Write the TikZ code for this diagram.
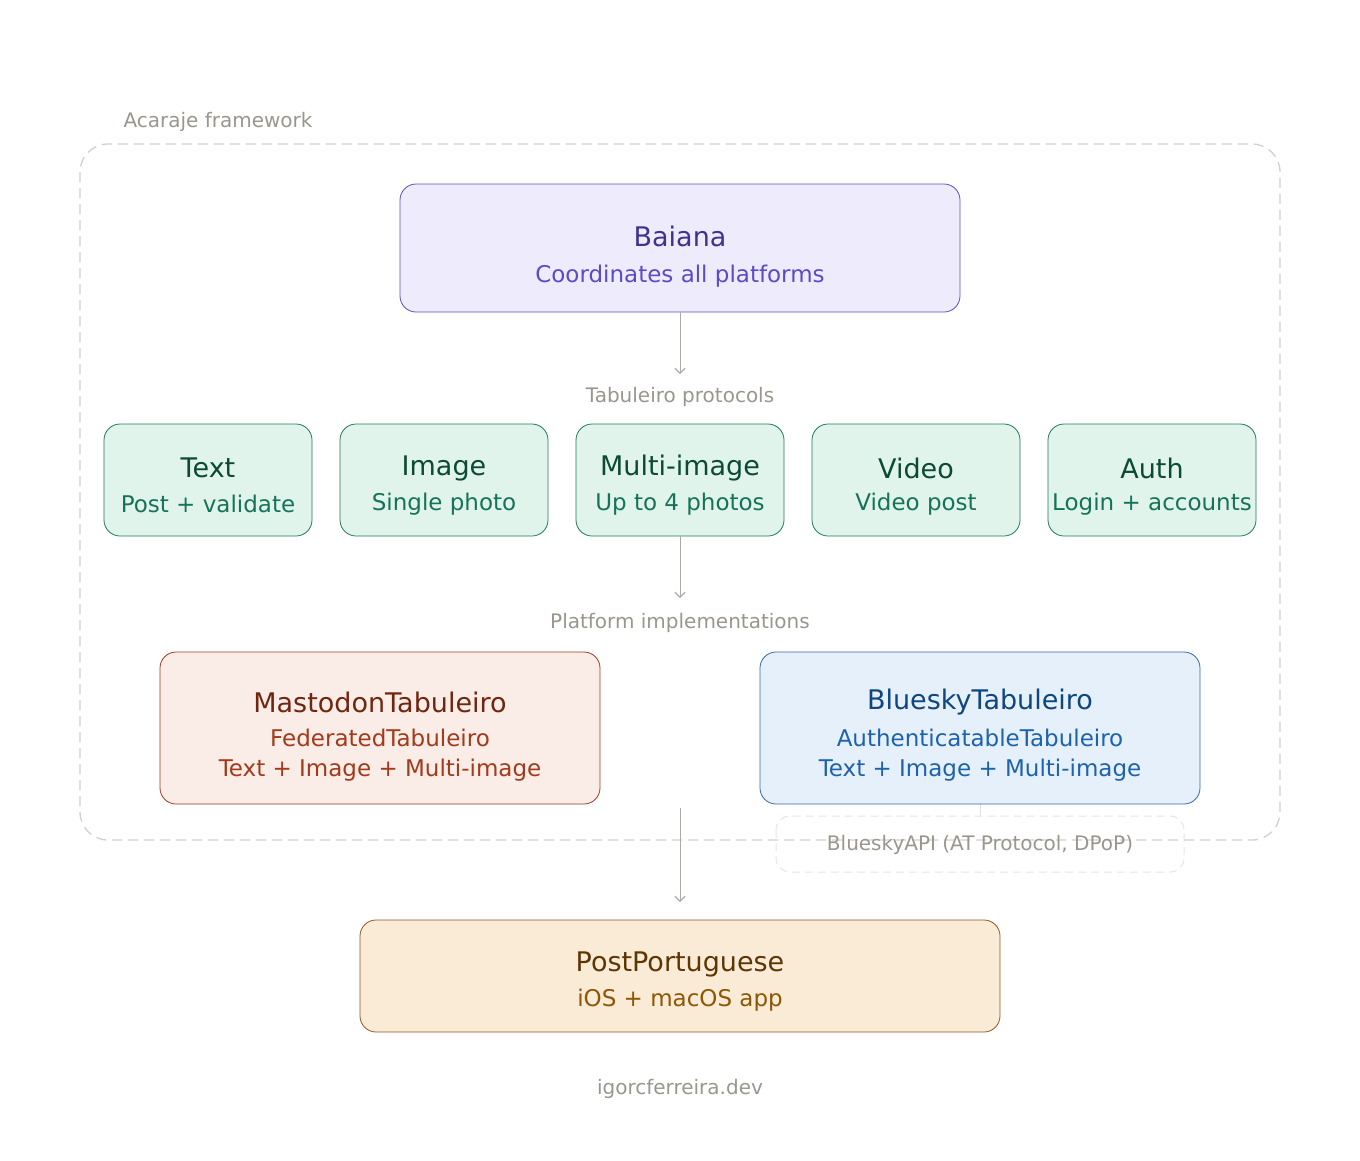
\documentclass[tikz,border=0pt]{standalone}
\usepackage{fontspec}
\setmainfont{DejaVu Sans}
\usetikzlibrary{arrows.meta}
\definecolor{lbl}{HTML}{9A968E}
\definecolor{pF}{HTML}{EEECFC}\definecolor{pD}{HTML}{5B4FC0}\definecolor{pT}{HTML}{3E3390}\definecolor{pS}{HTML}{5A4CC4}
\definecolor{gF}{HTML}{E0F4EC}\definecolor{gD}{HTML}{1E7A5A}\definecolor{gT}{HTML}{0C4A36}\definecolor{gS}{HTML}{16735A}
\definecolor{rF}{HTML}{FAECE6}\definecolor{rD}{HTML}{9A3A20}\definecolor{rT}{HTML}{70260F}\definecolor{rS}{HTML}{A23A1C}
\definecolor{bF}{HTML}{E6F0FA}\definecolor{bD}{HTML}{2F6AB0}\definecolor{bT}{HTML}{0E467E}\definecolor{bS}{HTML}{1D62AC}
\definecolor{oF}{HTML}{FAEBD6}\definecolor{oD}{HTML}{8E5A1C}\definecolor{oT}{HTML}{5E3604}\definecolor{oS}{HTML}{8E5606}
\begin{document}
\begin{tikzpicture}[x=1pt,y=-1pt,
  box/.style={rounded corners=16pt,line width=0.8pt,inner sep=0pt},
  lab/.style={text=lbl,font=\fontsize{20}{24}\selectfont},
  arr/.style={draw=lbl!80,line width=1pt,-{Straight Barb[length=5pt,width=10pt,line width=1.2pt]}}]
\useasboundingbox (0,0) rectangle (1360,1160);
\draw[lbl!45,dashed,dash pattern=on 10pt off 6pt,line width=1.3pt,rounded corners=28pt] (80,144) rectangle (1280,840);
\node[lab,anchor=west] (fw) at (120,122) {Acaraje framework};
% Baiana
\draw[box,draw=pD,fill=pF] (400,184) rectangle (960,312);
\node[text=pT,font=\fontsize{27}{30}\selectfont] (baiana) at (680,236) {Baiana};
\node[text=pS,font=\fontsize{23}{28}\selectfont] (bsub) at (680,276) {Coordinates all platforms};
\coordinate (b1) at (680,312);\coordinate (b2) at (680,374);
\draw[arr] (b1) -- (b2);
\node[lab] (tp) at (680,397) {Tabuleiro protocols};
% protocols
\foreach \x/\t/\s/\n in {208/Text/Post + validate/p1,444/Image/Single photo/p2,680/Multi-image/Up to 4 photos/p3,916/Video/Video post/p4,1152/Auth/Login + accounts/p5}{
  \draw[box,draw=gD,fill=gF] (\x-104,424) rectangle (\x+104,536);
  \node[text=gT,font=\fontsize{27}{30}\selectfont] (\n t) at (\x,468) {\t};
  \node[text=gS,font=\fontsize{23}{28}\selectfont] (\n s) at (\x,504) {\s};
}
\coordinate (c1) at (680,536);\coordinate (c2) at (680,598);
\draw[arr] (c1) -- (c2);
\node[lab] (pi) at (680,623) {Platform implementations};
% Mastodon
\draw[box,draw=rD,fill=rF] (160,652) rectangle (600,804);
\node[text=rT,font=\fontsize{27}{30}\selectfont] (m1) at (380,702) {MastodonTabuleiro};
\node[text=rS,font=\fontsize{23}{28}\selectfont] (m2) at (380,738) {FederatedTabuleiro};
\node[text=rS,font=\fontsize{23}{28}\selectfont] (m3) at (380,770) {Text + Image + Multi-image};
% Bluesky
\coordinate (s1) at (980,804);\coordinate (s2) at (980,816);
\draw[lbl!30,line width=0.8pt] (s1) -- (s2);
\draw[box,draw=bD,fill=bF] (760,652) rectangle (1200,804);
\node[text=bT,font=\fontsize{27}{30}\selectfont] (bl1) at (980,702) {BlueskyTabuleiro};
\node[text=bS,font=\fontsize{23}{28}\selectfont] (bl2) at (980,738) {AuthenticatableTabuleiro};
\node[text=bS,font=\fontsize{23}{28}\selectfont] (bl3) at (980,770) {Text + Image + Multi-image};
\draw[lbl!25,dashed,dash pattern=on 8pt off 5pt,line width=1pt,rounded corners=14pt] (776,816) rectangle (1184,872);
\node[lab] (api) at (980,845) {BlueskyAPI (AT Protocol, DPoP)};
\coordinate (d1) at (680,808);\coordinate (d2) at (680,902);
\draw[arr] (d1) -- (d2);
% PostPortuguese
\draw[box,draw=oD,fill=oF] (360,920) rectangle (1000,1032);
\node[text=oT,font=\fontsize{27}{30}\selectfont] (pp) at (680,964) {PostPortuguese};
\node[text=oS,font=\fontsize{23}{28}\selectfont] (pps) at (680,1000) {iOS + macOS app};
\node[lab] (foot) at (680,1089) {igorcferreira.dev};
\end{tikzpicture}
\end{document}
